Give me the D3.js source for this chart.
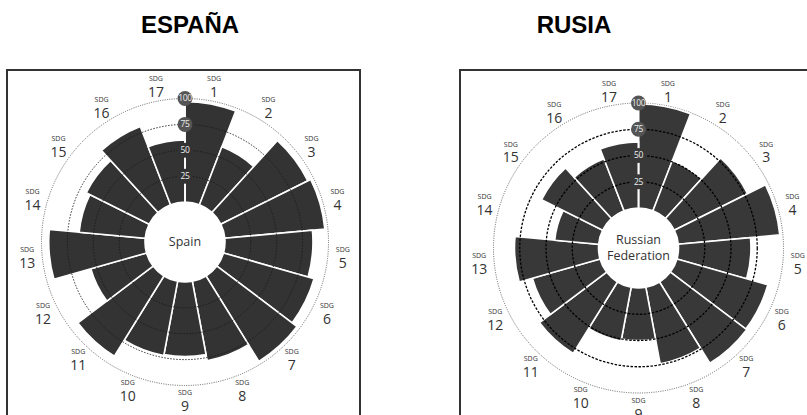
<!DOCTYPE html>
<html>
<head>
<meta charset="utf-8">
<style>
  body { margin: 0; background: #fff; }
  svg { display: block; }
  .title { font-family: "Liberation Sans", Arial, sans-serif; font-weight: bold; font-size: 24px; fill: #000; }
  .lbl { font-family: "Open Sans", sans-serif; fill: #333; }
</style>
</head>
<body>
<svg id="chart" width="807" height="415"></svg>
<script src="https://cdn.jsdelivr.net/npm/d3@7"></script>
<script>

// SDG goals, scores (0-100)
var goals = [1, 2, 3, 4, 5, 6, 7, 8, 9, 10, 11, 12, 13, 14, 15, 16, 17];
var spainScores  = [97, 60, 94, 97, 85, 91, 97, 78, 72, 73, 91, 56, 93, 64, 68, 81, 60];
var russiaScores = [99, 51, 78, 97, 69, 90, 91, 74, 50, 52, 80, 67, 80, 42, 65, 53, 63];
var ringTicks = [25, 50, 75, 100];
var titles = ["ESPAÑA", "RUSIA"];

var svg = d3.select("#chart");

// frames (cut by the bottom of the picture)
svg.append("rect").attr("x", 7).attr("y", 70).attr("width", 353).attr("height", 400)
  .attr("fill", "none").attr("stroke", "#333").attr("stroke-width", 2);
svg.append("rect").attr("x", 460).attr("y", 70).attr("width", 400).attr("height", 400)
  .attr("fill", "none").attr("stroke", "#333").attr("stroke-width", 2);

svg.append("text").attr("class", "title").attr("x", 190).attr("y", 33)
  .attr("text-anchor", "middle").text(titles[0]);
svg.append("text").attr("class", "title").attr("x", 574).attr("y", 33)
  .attr("text-anchor", "middle").text(titles[1]);

function roseChart(opts) {
  var g = svg.append("g").attr("transform", "translate(" + opts.cx + "," + opts.cy + ")");

  var angle = d3.scaleBand().domain(goals).range([0, 2 * Math.PI]).padding(0);
  var radius = d3.scaleLinear().domain([0, 100]).range([40, opts.r100]);

  var arc = d3.arc()
    .innerRadius(radius(0))
    .outerRadius(function (d) { return radius(d.v); })
    .startAngle(function (d) { return angle(d.goal); })
    .endAngle(function (d) { return angle(d.goal) + angle.bandwidth(); });

  var rows = goals.map(function (goal, i) { return { goal: goal, v: opts.scores[i] }; });

  // outer dotted ring
  g.append("circle").attr("r", radius(100)).attr("fill", "none")
    .attr("stroke", "#555").attr("stroke-width", 0.9).attr("stroke-dasharray", "1,1.3");

  g.selectAll("path.bar").data(rows).enter().append("path")
    .attr("class", "bar")
    .attr("d", arc)
    .attr("fill", opts.barColor)
    .attr("stroke", "#fff").attr("stroke-width", 1.6);

  // inner rings drawn over the bars
  g.selectAll("circle.ring").data(ringTicks.slice(0, 3)).enter().append("circle")
    .attr("class", "ring")
    .attr("r", function (d) { return radius(d); })
    .attr("fill", "none")
    .attr("stroke", opts.ringColor)
    .attr("stroke-width", opts.ringWidth)
    .attr("stroke-dasharray", opts.ringDash);

  // vertical axis line
  g.append("line").attr("x1", 0).attr("x2", 0)
    .attr("y1", -radius(0)).attr("y2", -radius(100))
    .attr("stroke", "#fff").attr("stroke-width", 1.6);

  g.append("circle").attr("r", radius(0)).attr("fill", "#fff");

  // tick badges
  var tick = g.selectAll("g.tick").data(ringTicks).enter().append("g")
    .attr("class", "tick")
    .attr("transform", function (d) { return "translate(0," + (-radius(d)) + ")"; });
  tick.append("circle").attr("r", 7.5)
    .attr("fill", function (d) { return d >= 75 ? "#555" : opts.barColor; });
  tick.append("text")
    .attr("text-anchor", "middle").attr("dy", "0.35em")
    .attr("font-family", "'Open Sans', sans-serif").attr("font-size", 8.5)
    .attr("letter-spacing", -0.4)
    .attr("fill", "#eee")
    .text(function (d) { return d; });

  // SDG labels round the rim
  var lab = g.selectAll("g.sdg").data(goals).enter().append("g")
    .attr("class", "sdg")
    .attr("transform", function (d) {
      var a = angle(d) + angle.bandwidth() / 2;
      var r = opts.r100 + 15;
      return "translate(" + (Math.sin(a) * r) + "," + (-Math.cos(a) * r) + ")";
    });
  lab.append("text").attr("class", "lbl").attr("text-anchor", "middle")
    .attr("y", -7.5).attr("dy", "0.35em").attr("font-size", 7).text("SDG");
  lab.append("text").attr("class", "lbl").attr("text-anchor", "middle")
    .attr("y", 6).attr("dy", "0.35em").attr("font-size", 14).text(function (d) { return d; });

  // country name in the middle
  g.selectAll("text.name").data(opts.name).enter().append("text")
    .attr("class", "lbl name")
    .attr("text-anchor", "middle")
    .attr("font-size", 12.5)
    .attr("y", function (d, i) { return (i - (opts.name.length - 1) / 2) * 16; })
    .attr("dy", "0.35em")
    .text(function (d) { return d; });
}

roseChart({
  cx: 185, cy: 242, r100: 143.5,
  scores: spainScores, name: ["Spain"],
  barColor: "#333", ringColor: "#1a1a1a", ringWidth: 0.9, ringDash: "1.5,1.5"
});

roseChart({
  cx: 638.5, cy: 248, r100: 145,
  scores: russiaScores, name: ["Russian", "Federation"],
  barColor: "#383838", ringColor: "#000", ringWidth: 1.3, ringDash: "2.5,1.5"
});

</script>
</body>
</html>
